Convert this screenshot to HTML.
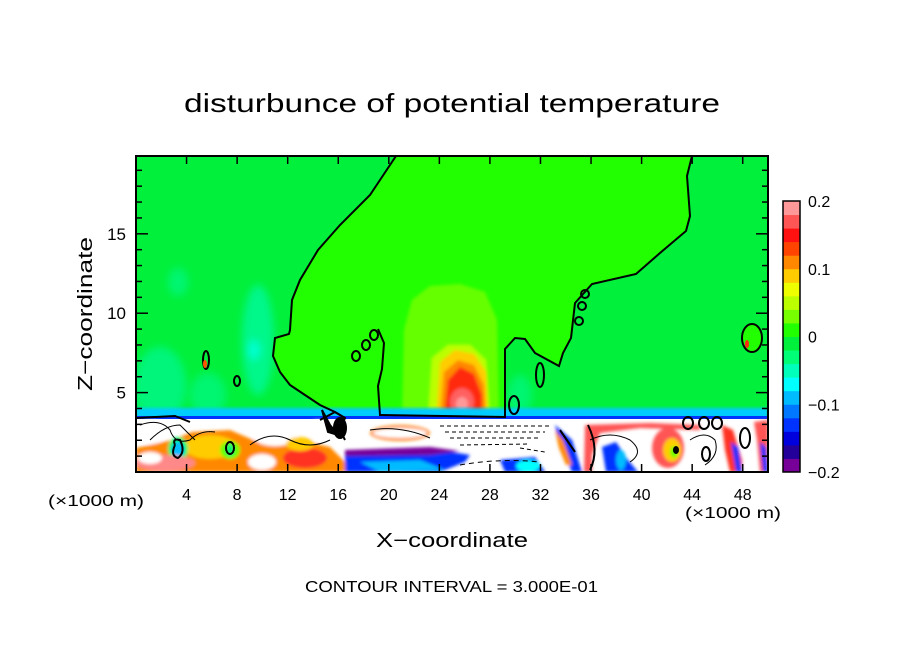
<!DOCTYPE html>
<html><head><meta charset="utf-8"><style>
html,body{margin:0;padding:0;background:#fff;}
svg text{font-family:"Liberation Sans",sans-serif;fill:#000;}
</style></head><body>
<svg id="chart" width="904" height="654" viewBox="0 0 904 654" xmlns="http://www.w3.org/2000/svg">
<defs>
<clipPath id="pc"><rect x="136" y="156" width="632" height="316"/></clipPath>
<filter id="bl" x="-20%" y="-20%" width="140%" height="140%"><feGaussianBlur stdDeviation="1.6"/></filter>
<filter id="bl2" x="-20%" y="-20%" width="140%" height="140%"><feGaussianBlur stdDeviation="4"/></filter>
</defs>
<text x="452" y="112" font-size="26" text-anchor="middle" textLength="536" lengthAdjust="spacingAndGlyphs">disturbunce of potential temperature</text>

<g clip-path="url(#pc)">
  <rect x="136" y="156" width="632" height="316" fill="#00f03c"/>
  <g filter="url(#bl2)">
    <ellipse cx="178" cy="282" rx="10" ry="14" fill="#00f570"/>
    <ellipse cx="258" cy="340" rx="16" ry="55" fill="#00f78a"/>
    <ellipse cx="254" cy="350" rx="6" ry="10" fill="#00ffd0"/>
    <ellipse cx="160" cy="385" rx="26" ry="38" fill="#00f57a"/>
    <ellipse cx="208" cy="395" rx="18" ry="22" fill="#00f570"/>
    <ellipse cx="520" cy="395" rx="12" ry="20" fill="#00f570"/>
  </g>
  <path fill="#22ff00" d="M396,156 L370,195 L340,225 L318,250 L300,280 L292,300 L290,330 L289,334 L275,338 L273,356 L280,372 L290,385 L305,395 L320,405 L335,412 L345,418 L505,418 L505,349 L515,338 L525,339 L535,353 L559,366 L563,353 L571,338 L575,303 L592,284 L636,274 L660,253 L686,231 L690,216 L687,176 L692,156 Z"/>
  <g filter="url(#bl)">
    <path fill="#66ff00" d="M402,420 L404,330 L412,300 L430,286 L460,284 L485,292 L497,320 L499,420 Z"/>
    <path fill="#bbff00" d="M428,420 L432,358 L448,345 L470,345 L486,360 L490,420 Z"/>
    <path fill="#ffcc00" d="M436,420 L440,362 L455,350 L474,354 L486,372 L488,420 Z"/>
    <path fill="#ff8800" d="M440,420 L444,372 L458,360 L474,365 L484,385 L486,420 Z"/>
    <path fill="#ff2a10" d="M444,420 L448,380 L460,367 L474,374 L482,395 L482,420 Z"/>
    <ellipse cx="462" cy="402" rx="12" ry="14" fill="#ff6060"/>
    <ellipse cx="462" cy="404" rx="6" ry="7" fill="#ff9999"/>
  </g>
  <g>
    <rect x="136" y="408" width="632" height="10" fill="#00ccff" filter="url(#bl)"/>
    <rect x="136" y="416" width="632" height="3" fill="#0033ff"/>
    <rect x="136" y="419" width="632" height="53" fill="#ffffff"/>
    <g filter="url(#bl)">
      <path fill="#ff8800" d="M136,448 L172,440 L192,432 L230,430 L258,442 L300,440 L330,447 L345,462 L345,472 L136,472 Z"/>
      <ellipse cx="210" cy="447" rx="26" ry="12" fill="#ffcc00"/>
      <ellipse cx="230" cy="450" rx="10" ry="9" fill="#66ff00"/>
      <ellipse cx="230" cy="450" rx="4" ry="6" fill="#00f570"/>
      <ellipse cx="178" cy="449" rx="10" ry="12" fill="#00f570"/>
      <ellipse cx="178" cy="450" rx="6" ry="8" fill="#00bbff"/>
      <ellipse cx="165" cy="463" rx="30" ry="8" fill="#ff8888"/>
      <ellipse cx="150" cy="458" rx="12" ry="6" fill="#ffffff"/>
      <ellipse cx="150" cy="432" rx="16" ry="12" fill="#ffffff"/>
      <ellipse cx="275" cy="436" rx="22" ry="10" fill="#ffffff"/>
      <ellipse cx="262" cy="462" rx="14" ry="8" fill="#ffffff"/>
      <ellipse cx="305" cy="458" rx="22" ry="10" fill="#ff3322"/>
      <ellipse cx="300" cy="444" rx="14" ry="7" fill="#ffcc00"/>
      <ellipse cx="318" cy="430" rx="10" ry="10" fill="#ffffff"/>
      <path fill="#0033ff" d="M345,455 L400,452 L440,450 L470,455 L465,462 L440,472 L345,472 Z"/>
      <path fill="#00bbff" d="M360,462 L420,460 L445,470 L380,472 Z"/>
      <path fill="#770099" d="M345,450 L430,447 L460,451 L430,455 L345,456 Z"/>
      <ellipse cx="400" cy="433" rx="30" ry="8" fill="#ff8800"/>
      <ellipse cx="400" cy="433" rx="27" ry="5" fill="#ffffff"/>
      <path fill="#0033ff" d="M500,460 L535,457 L545,472 L505,472 Z"/>
      <ellipse cx="528" cy="466" rx="12" ry="6" fill="#00ffff"/>
      <path fill="#0033ff" d="M555,425 L572,440 L582,472 L572,472 L560,445 Z"/>
      <path fill="#ff8800" d="M555,430 L563,440 L572,465 L566,465 L559,448 Z"/>
      <path fill="#ff5555" d="M585,425 L650,423 L700,425 L700,430 L640,428 L600,433 L592,455 L592,472 L584,472 Z"/>
      <path fill="#0033ff" d="M602,447 L616,442 L628,460 L638,472 L606,472 Z"/>
      <ellipse cx="621" cy="460" rx="5" ry="10" fill="#00bbff"/>
      <ellipse cx="668" cy="448" rx="16" ry="20" fill="#ff5555"/>
      <ellipse cx="672" cy="450" rx="9" ry="12" fill="#ffcc00"/>
      <ellipse cx="674" cy="452" rx="4" ry="6" fill="#66ff00"/>
      <path fill="#ff3322" d="M722,425 L733,430 L742,460 L742,472 L730,472 L725,450 Z"/>
      <path fill="#0033ff" d="M731,442 L738,447 L742,472 L736,472 Z"/>
      <path fill="#ff5555" d="M754,422 L768,420 L768,472 L760,472 L757,440 Z"/>
      <path fill="#0033ff" d="M760,442 L766,447 L768,472 L763,472 Z"/>
    </g>
    <g fill="none" stroke="#000" stroke-width="1">
      <path d="M140,425 Q160,418 170,430 Q175,445 190,440 Q200,430 215,432"/>
      <path d="M150,440 Q165,425 180,425 L195,440"/>
      <path d="M250,445 Q270,430 290,440 Q310,450 330,440"/>
      <path d="M370,430 Q400,425 430,438"/>
      <path d="M590,440 Q610,430 630,440 Q645,452 630,462"/>
      <path d="M690,440 Q705,430 715,440 Q720,455 705,465"/>
      <path stroke-dasharray="4,3" d="M440,426 L550,426"/>
      <path stroke-dasharray="4,3" d="M445,432 L545,432"/>
      <path stroke-dasharray="4,3" d="M450,438 L540,438"/>
      <path stroke-dasharray="4,3" d="M460,445 L530,444"/>
      <path stroke-dasharray="5,4" d="M460,465 Q500,458 540,462"/>
      <path stroke-dasharray="4,3" d="M520,448 L545,452"/>
    </g>
    <g fill="none" stroke="#000" stroke-width="2">
      <path d="M136,418 L175,416 L190,422"/>
      <path d="M175,445 Q172,438 180,440 Q186,452 178,458 Q170,456 175,445"/>
      <ellipse cx="230" cy="448" rx="4" ry="6"/>
      <path d="M320,420 L335,412 L345,418 L340,430 L345,440"/>
      <path d="M322,410 L330,425 L338,435 L328,432 Z" fill="#000"/>
      <ellipse cx="340" cy="428" rx="6" ry="10" fill="#000"/>
      <path d="M588,425 Q600,450 590,470"/>
      <path d="M560,430 L575,452"/>
      <ellipse cx="745" cy="438" rx="5" ry="10"/>
      <ellipse cx="706" cy="454" rx="4" ry="7"/>
      <ellipse cx="676" cy="450" rx="2" ry="3" fill="#000"/>
    </g>
  </g>
  <path fill="none" stroke="#000" stroke-width="2" d="M396,156 L370,195 L340,225 L318,250 L300,280 L292,300 L290,330 L289,334 L275,338 L273,356 L280,372 L290,385 L305,395 L320,405 L335,412 L345,418 M378,329 L384,343 L382,369 L378,386 L380,415 L505,417 L505,349 L515,338 L525,339 L535,353 L559,366 L563,353 L571,338 L575,303 L592,284 L636,274 L660,253 L686,231 L690,216 L687,176 L692,156"/>
  <g fill="none" stroke="#000" stroke-width="2">
    <ellipse cx="356" cy="356" rx="4" ry="5"/>
    <ellipse cx="366" cy="345" rx="4" ry="5"/>
    <ellipse cx="374" cy="335" rx="4" ry="5"/>
    <ellipse cx="579" cy="321" rx="4" ry="4"/>
    <ellipse cx="582" cy="306" rx="4" ry="4"/>
    <ellipse cx="585" cy="294" rx="4" ry="4"/>
    <ellipse cx="206" cy="360" rx="3" ry="9"/>
    <ellipse cx="237" cy="381" rx="3" ry="5"/>
    <ellipse cx="540" cy="375" rx="4" ry="12"/>
    <ellipse cx="514" cy="405" rx="5" ry="9"/>
    <ellipse cx="752" cy="338" rx="10" ry="14" fill="#22ff00"/>
    <ellipse cx="688" cy="423" rx="5" ry="6"/>
    <ellipse cx="704" cy="423" rx="5" ry="6"/>
    <ellipse cx="717" cy="423" rx="5" ry="6"/>
  </g>
  <ellipse cx="747" cy="344" rx="2" ry="4" fill="#ff2a10"/>
  <ellipse cx="205" cy="364" rx="2" ry="4" fill="#ff5500"/>
</g>
<rect x="136" y="156" width="632" height="316" fill="none" stroke="#000" stroke-width="2"/>
<g id="axes"></g>
<g id="cbar"></g>

<text x="452" y="547" font-size="20" text-anchor="middle" textLength="152" lengthAdjust="spacingAndGlyphs">X−coordinate</text>
<text transform="translate(92,314) rotate(-90)" font-size="20" text-anchor="middle" textLength="154" lengthAdjust="spacingAndGlyphs">Z−coordinate</text>
<text x="48" y="506" font-size="16" textLength="96" lengthAdjust="spacingAndGlyphs">(×1000 m)</text>
<text x="685" y="518" font-size="16" textLength="96" lengthAdjust="spacingAndGlyphs">(×1000 m)</text>
<text x="305" y="592" font-size="16" textLength="293" lengthAdjust="spacingAndGlyphs">CONTOUR INTERVAL = 3.000E-01</text>
</svg>
<script>
const xTicks = [4,8,12,16,20,24,28,32,36,40,44,48];
const yTicks = [5,10,15];
const cbLevels = [-0.2,-0.18,-0.16,-0.14,-0.12,-0.1,-0.08,-0.06,-0.04,-0.02,0,0.02,0.04,0.06,0.08,0.1,0.12,0.14,0.16,0.18];
const cbColors = ["#770099","#220099","#0000dd","#0033ff","#0077ff","#00bbff","#00ffff","#00ffbb","#00ff77","#00f03c","#22ff00","#77ff00","#bbff00","#eeff00","#ffcc00","#ff8800","#ff4400","#ff1111","#ff5555","#ff9999"];
const cbLabels = [-0.2,-0.1,0,0.1,0.2];
const NS="http://www.w3.org/2000/svg";
const X0=136,X1=768,Y0=472,Y1=156;
const xs=v=>X0+(v/50)*(X1-X0);
const ys=v=>Y0-(v/19.9)*(Y0-Y1);
const CB0=472,CB1=201;
const cs=v=>CB0-((v+0.2)/0.4)*(CB0-CB1);
function mk(t,a){const e=document.createElementNS(NS,t);for(const k in a)e.setAttribute(k,a[k]);return e;}
const ax=document.getElementById('axes');
xTicks.forEach(v=>{
  const x=xs(v);
  const t1=mk('line',{x1:x,x2:x,y1:Y0,y2:Y0-8,stroke:'#000','stroke-width':1.5});
  
  
  ax.appendChild(t1);
  const t2=mk('line',{x1:x,x2:x,y1:Y1,y2:Y1+8,stroke:'#000','stroke-width':1.5});
  
  
  ax.appendChild(t2);
  const l=mk('text',{x:x,y:500,'font-size':16,'text-anchor':'middle'});
  
  
  l.textContent=v;ax.appendChild(l);
});
for(let v=1;v<20;v++){
  const y=ys(v);const major=yTicks.includes(v);
  const a=mk('line',{x1:X0,x2:X0+(major?12:6),y1:y,y2:y,stroke:'#000','stroke-width':1.5});
  
  
  ax.appendChild(a);
  const b=mk('line',{x1:X1,x2:X1-(major?12:6),y1:y,y2:y,stroke:'#000','stroke-width':1.5});
  
  
  ax.appendChild(b);
}
yTicks.forEach(v=>{
  const l=mk('text',{x:126,y:ys(v)+6,'font-size':17,'text-anchor':'end'});
  
  
  l.textContent=v;ax.appendChild(l);
});
const cb=document.getElementById('cbar');
cbLevels.forEach((v,i)=>{
  const yTop=cs(v+0.02),yBot=cs(v);
  const r=mk('rect',{x:783,y:yTop,width:17,height:yBot-yTop+0.5,fill:cbColors[i]});
  
  
  cb.appendChild(r);
});
const fr=mk('rect',{x:783,y:CB1,width:17,height:CB0-CB1,fill:'none',stroke:'#000','stroke-width':1.5});


cb.appendChild(fr);
cbLabels.forEach(v=>{
  const l=mk('text',{x:808,y:cs(v)+6,'font-size':16});
  
  
  l.textContent=v<0?('−'+Math.abs(v)):String(v);cb.appendChild(l);
});
</script>
</body></html>
